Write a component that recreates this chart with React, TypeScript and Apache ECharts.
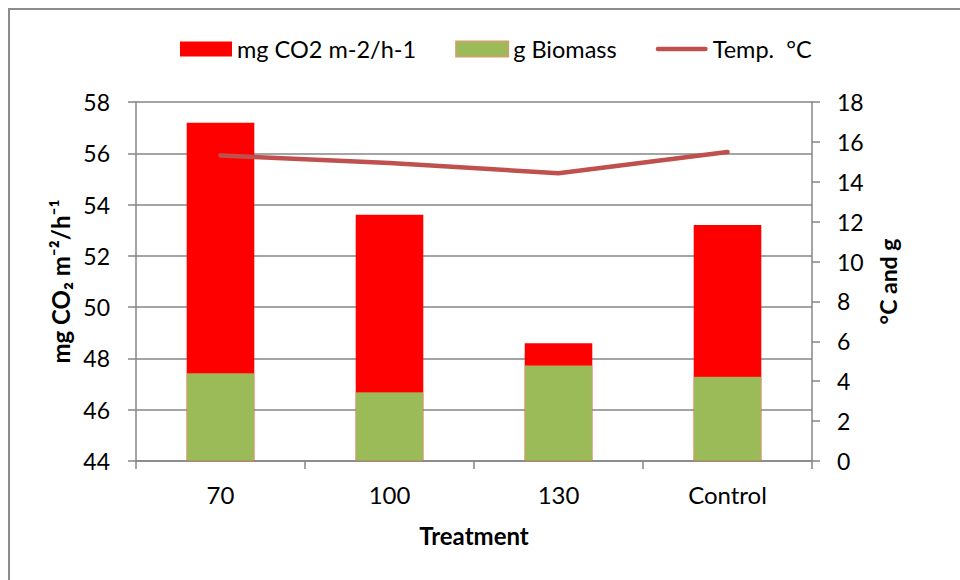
import React, { useEffect, useRef } from "react";
import * as echarts from "echarts";

const categories = ["70", "100", "130", "Control"];
const co2Values = [57.19, 53.6, 48.59, 53.2];
const biomassValues = [4.4, 3.44, 4.79, 4.22];
const tempValues = [15.32, 14.94, 14.43, 15.49];

const FONT = "Lato, 'Open Sans', sans-serif";

export default function App() {
  const ref = useRef<HTMLDivElement>(null);
  useEffect(() => {
    document.body.style.margin = "0";
    const chart = echarts.init(ref.current!, null, { renderer: "svg" });
    chart.setOption({
      animation: false,
      backgroundColor: "#ffffff",
      textStyle: { fontFamily: FONT, color: "#000" },
      graphic: [
        {
          type: "rect",
          shape: { x: 9, y: 9, width: 1000, height: 700 },
          style: { fill: "none", stroke: "#8c8c8c", lineWidth: 2 },
          silent: true,
          z: -10,
        },
      ],
      legend: {
        top: 32,
        left: 175,
        itemWidth: 52,
        itemHeight: 15,
        itemGap: 39,
        textStyle: { fontSize: 23.5, fontFamily: FONT, color: "#000" },
        data: [
          { name: "mg CO2 m-2/h-1", icon: "rect" },
          { name: "g Biomass", icon: "rect" },
          { name: "Temp.  °C", icon: "path://M2.5,0 L53.5,0 A2.5,2.5 0 0 1 53.5,5 L2.5,5 A2.5,2.5 0 0 1 2.5,0 Z" },
        ],
      },
      grid: { left: 136, right: 148, top: 102, bottom: 119 },
      xAxis: {
        type: "category",
        data: categories,
        name: "Treatment",
        nameLocation: "middle",
        nameGap: 62,
        nameTextStyle: { fontSize: 24, fontWeight: "bold", fontFamily: FONT, color: "#000" },
        axisLine: { lineStyle: { color: "#868686", width: 1.5 } },
        axisTick: { show: true, length: 8, lineStyle: { color: "#868686", width: 1.5 } },
        axisLabel: { fontSize: 24, color: "#000", margin: 21, fontFamily: FONT },
      },
      yAxis: [
        {
          type: "value",
          min: 44,
          max: 58,
          interval: 2,
          name: "mg CO₂ m⁻²/h⁻¹",
          nameLocation: "middle",
          nameRotate: 90,
          nameGap: 62,
          nameTextStyle: { fontSize: 24, fontWeight: "bold", fontFamily: FONT, color: "#000" },
          axisLine: { show: true, lineStyle: { color: "#868686", width: 1.5 } },
          axisTick: { show: true, length: 8, lineStyle: { color: "#868686", width: 1.5 } },
          axisLabel: { fontSize: 23, color: "#000", margin: 26, fontFamily: FONT },
          splitLine: { show: true, lineStyle: { color: "#868686", width: 1.5 } },
        },
        {
          type: "value",
          min: 0,
          max: 18,
          interval: 2,
          position: "right",
          name: "°C and g",
          nameLocation: "middle",
          nameRotate: 90,
          nameGap: 64,
          nameTextStyle: { fontSize: 23, fontWeight: "bold", fontFamily: FONT, color: "#000" },
          axisLine: { show: true, lineStyle: { color: "#868686", width: 1.5 } },
          axisTick: { show: true, length: 8, lineStyle: { color: "#868686", width: 1.5 } },
          axisLabel: { fontSize: 23, color: "#000", margin: 25, fontFamily: FONT },
          splitLine: { show: false },
        },
      ],
      series: [
        {
          name: "mg CO2 m-2/h-1",
          type: "bar",
          yAxisIndex: 0,
          data: co2Values,
          barWidth: "40%",
          barGap: "-100%",
          itemStyle: { color: "#FF0000" },
        },
        {
          name: "g Biomass",
          type: "bar",
          yAxisIndex: 1,
          data: biomassValues,
          barWidth: "40%",
          barGap: "-100%",
          itemStyle: { color: "#9BBB59", borderColor: "#C9A46A", borderWidth: 0.4 },
        },
        {
          name: "Temp.  °C",
          type: "line",
          yAxisIndex: 1,
          data: tempValues,
          symbol: "none",
          lineStyle: { color: "#C0504D", width: 4.5, cap: "round", join: "round" },
          itemStyle: { color: "#C0504D" },
          z: 5,
        },
      ],
    });
    return () => chart.dispose();
  }, []);
  return <div ref={ref} style={{ width: 960, height: 580 }} />;
}
